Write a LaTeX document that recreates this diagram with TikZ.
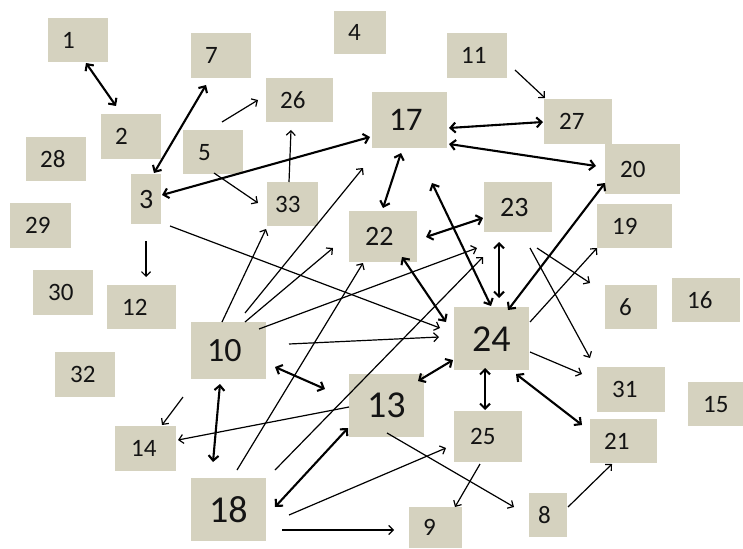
\documentclass[tikz,border=0pt]{standalone}
\usepackage{fontspec}
\setmainfont{Carlito}
\usetikzlibrary{arrows.meta}
\definecolor{boxc}{RGB}{213,210,191}
\definecolor{txtc}{RGB}{20,20,20}
% \mybox{name}{left}{top}{width}{height}{inset}{fontsize}{text}
\newcommand\mybox[8]{%
  \pgfmathsetmacro\bxtw{#4-2*#6}%
  \expandafter\gdef\csname bxL#1\endcsname{#2}%
  \expandafter\gdef\csname bxT#1\endcsname{#3}%
  \node[box, font=\fontsize{#7pt}{#7pt}\selectfont, inner xsep=#6pt,
        text width=\bxtw pt, minimum height=#5pt] (#1) at (#2,#3) {#8};}
% point given in picture pixels, expressed relative to a named node
\newcommand\np[3]{([shift={({#2-\csname bxL#1\endcsname},{#3-\csname bxT#1\endcsname})}]#1.north west)}
\tikzset{
  box/.style={fill=boxc, draw=none, anchor=north west, align=left, inner ysep=0pt, text=txtc},
  dbl/.style={line width=2.1pt, {Straight Barb[length=5pt,width=10pt]}-{Straight Barb[length=5pt,width=10pt]}},
  sg/.style={line width=1.2pt, -{Straight Barb[length=4.5pt,width=9pt]}},
}
\begin{document}
\begin{tikzpicture}[x=1pt,y=-1pt]
\useasboundingbox (0,0) rectangle (743,548);
\fill[white] (0,0) rectangle (743,548);
% boxes
\mybox{n1}{48}{18}{60}{44}{14}{25}{1}
\mybox{n2}{101}{114}{60}{45}{14}{25}{2}
\mybox{n3}{131}{174}{30}{50}{8}{28}{3}
\mybox{n4}{334}{11}{52}{43}{14}{25}{4}
\mybox{n5}{183}{130}{60}{44}{15}{25}{5}
\mybox{n6}{605}{285}{52}{44}{14}{25}{6}
\mybox{n7}{191}{33}{60}{45}{14}{25}{7}
\mybox{n8}{529}{493}{38}{44}{9}{25}{8}
\mybox{n9}{409}{507}{53}{41}{14}{25}{9}
\mybox{n10}{191}{322}{75}{57}{16}{34}{10}
\mybox{n11}{447}{33}{60}{45}{14}{25}{11}
\mybox{n12}{107}{285}{69}{44}{15}{25}{12}
\mybox{n13}{349}{374}{75}{63}{18}{38}{13}
\mybox{n14}{115}{426}{61}{45}{16}{25}{14}
\mybox{n15}{688}{382}{55}{44}{15}{25}{15}
\mybox{n16}{672}{278}{68}{44}{15}{25}{16}
\mybox{n17}{372}{92}{75}{56}{17}{33}{17}
\mybox{n18}{191}{478}{75}{63}{18}{38}{18}
\mybox{n19}{597}{204}{75}{44}{15}{25}{19}
\mybox{n20}{605}{144}{75}{50}{15}{25}{20}
\mybox{n21}{590}{419}{67}{44}{14}{25}{21}
\mybox{n22}{349}{211}{68}{51}{16}{28}{22}
\mybox{n23}{484}{182}{68}{50}{16}{28}{23}
\mybox{n24}{454}{307}{75}{63}{18}{38}{24}
\mybox{n25}{454}{411}{68}{51}{16}{25}{25}
\mybox{n26}{266}{78}{67}{44}{14}{25}{26}
\mybox{n27}{544}{99}{68}{45}{15}{25}{27}
\mybox{n28}{26}{137}{60}{44}{14}{25}{28}
\mybox{n29}{10}{203}{61}{45}{15}{25}{29}
\mybox{n30}{33}{270}{60}{45}{15}{25}{30}
\mybox{n31}{597}{367}{68}{45}{15}{25}{31}
\mybox{n32}{55}{352}{60}{45}{15}{25}{32}
\mybox{n33}{267}{182}{51}{44}{8}{25}{33}
% connectors
\draw[dbl] \np{n1}{86}{63} -- \np{n2}{116}{106};
\draw[dbl] \np{n3}{154}{173} -- \np{n7}{206}{85};
\draw[sg] \np{n5}{222}{122} -- \np{n26}{258}{100};
\draw[sg] \np{n5}{214}{173} -- \np{n33}{258}{203};
\draw[sg] \np{n33}{289}{182} -- \np{n26}{291}{130};
\draw[dbl] \np{n17}{370}{137} -- \np{n3}{162}{195};
\draw[dbl] \np{n17}{449}{128} -- \np{n27}{543}{122};
\draw[dbl] \np{n17}{449}{144} -- \np{n20}{596}{166};
\draw[sg] \np{n11}{515}{70} -- \np{n27}{545}{98};
\draw[dbl] \np{n17}{401}{153} -- \np{n22}{383}{208};
\draw[sg] \np{n3}{146}{241} -- \np{n12}{146}{277};
\draw[sg] \np{n3}{170}{226} -- \np{n24}{440}{328};
\draw[sg] \np{n10}{222}{322} -- \np{n33}{266}{229};
\draw[sg] \np{n10}{245}{313} -- \np{n17}{363}{168};
\draw[sg] \np{n10}{245}{322} -- \np{n22}{333}{248};
\draw[sg] \np{n10}{259}{329} -- \np{n23}{477}{248};
\draw[sg] \np{n10}{289}{344} -- \np{n24}{439}{337};
\draw[dbl] \np{n10}{275}{367} -- \np{n13}{325}{389};
\draw[sg] \np{n13}{349}{407} -- \np{n14}{178}{440};
\draw[sg] \np{n10}{183}{397} -- \np{n14}{162}{425};
\draw[dbl] \np{n10}{220}{384} -- \np{n18}{213}{462};
\draw[sg] \np{n18}{237}{470} -- \np{n22}{363}{263};
\draw[sg] \np{n18}{275}{470} -- \np{n23}{483}{257};
\draw[dbl] \np{n18}{275}{507} -- \np{n13}{348}{428};
\draw[sg] \np{n18}{289}{515} -- \np{n25}{446}{448};
\draw[sg] \np{n18}{282}{530} -- \np{n9}{394}{530};
\draw[sg] \np{n13}{387}{433} -- \np{n8}{514}{507};
\draw[sg] \np{n25}{480}{464} -- \np{n9}{455}{507};
\draw[dbl] \np{n13}{418}{381} -- \np{n24}{453}{360};
\draw[dbl] \np{n24}{485}{368} -- \np{n25}{485}{410};
\draw[dbl] \np{n22}{402}{257} -- \np{n24}{446}{322};
\draw[dbl] \np{n22}{426}{237} -- \np{n23}{483}{218};
\draw[dbl] \np{n23}{499}{242} -- \np{n24}{499}{298};
\draw[dbl] \np{n17}{432}{183} -- \np{n24}{491}{306};
\draw[dbl] \np{n24}{508}{310} -- \np{n20}{605}{183};
\draw[sg] \np{n24}{530}{322} -- \np{n19}{597}{248};
\draw[sg] \np{n24}{530}{352} -- \np{n31}{582}{374};
\draw[dbl] \np{n24}{516}{374} -- \np{n21}{582}{425};
\draw[sg] \np{n8}{568}{507} -- \np{n21}{612}{464};
\draw[sg] \np{n23}{530}{248} -- \np{n31}{590}{358};
\draw[sg] \np{n23}{537}{248} -- \np{n6}{590}{283};
\end{tikzpicture}
\end{document}
